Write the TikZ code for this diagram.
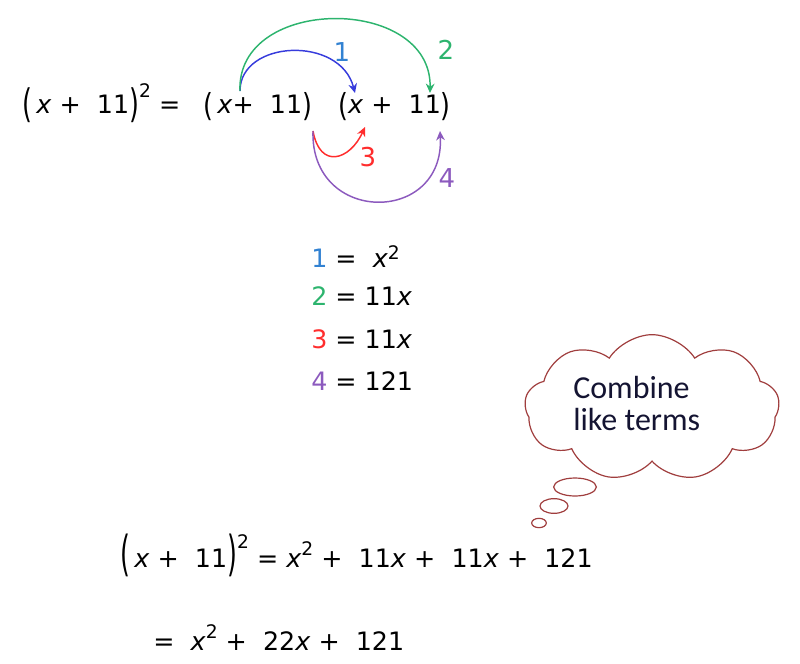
\documentclass[tikz,border=0pt]{standalone}
\usepackage{fontspec}
\setmainfont{DejaVu Sans}
\newfontfamily\cloudfont{Carlito}
\usetikzlibrary{arrows.meta,shapes.symbols,shapes.geometric}
\definecolor{oneblue}{RGB}{55,60,220}
\definecolor{onelabel}{RGB}{50,130,210}
\definecolor{twogreen}{RGB}{45,180,110}
\definecolor{threered}{RGB}{255,45,45}
\definecolor{fourpurple}{RGB}{140,90,190}
\definecolor{cloudred}{RGB}{160,62,62}
\definecolor{notetext}{RGB}{20,20,50}
\newcommand{\vx}{\textit{x}}
\newcommand{\sqd}[1][0.55em]{\raisebox{#1}{\fontsize{14}{14}\selectfont 2}}
\newcommand{\tallp}[3]{\raisebox{-#2em}{\scalebox{1}[#1]{#3}}}
\begin{document}
\begin{tikzpicture}[x=0.75pt,y=-0.75pt,
  eqn/.style={anchor=base west,inner sep=0pt,font=\fontsize{19}{23}\selectfont},
  tag/.style={inner sep=0pt,font=\fontsize{19.5}{23}\selectfont},
  curve/.style={line width=1.1pt,-{Stealth[length=7pt,width=6.5pt]}},
  bubble/.style={ellipse,draw=cloudred,line width=0.9pt,inner sep=0pt}]
\useasboundingbox (0,0) rectangle (800,664);

% top line
\node[eqn] (lhs) at (22,113) {\tallp{1.55}{0.17}{(}\,\vx{} +\ \ 11\tallp{1.55}{0.17}{)}\sqd[0.6em]\ =};
\node[eqn] (fa) at (203,113) {\tallp{1.25}{0.14}{(}\,\vx{}+\ \ 11\tallp{1.25}{0.14}{)}};
\node[eqn] (fb) at (338,113) {\tallp{1.25}{0.14}{(}\vx{} +\ \ 11\tallp{1.25}{0.14}{)}};

% arrow ends
\coordinate (xa) at (240,91);
\coordinate (na) at (313,131);
\coordinate (xb) at (355,93);
\coordinate (nb) at (430,93);
\coordinate (xbl) at (365,127);
\coordinate (nbl) at (440,131);

\draw[curve,oneblue] (xa) .. controls (240,40) and (340,35) .. (xb);
\draw[curve,twogreen] (xa) .. controls (236,-5) and (432,-5) .. (nb);
\draw[curve,threered] (na) .. controls (320,170) and (350,160) .. (xbl);
\draw[curve,fourpurple] (na) .. controls (310,225) and (445,225) .. (nbl);

\node[tag,text=onelabel] (t1) at (342,52) {1};
\node[tag,text=twogreen] (t2) at (446,50) {2};
\node[tag,text=threered] (t3) at (368,157) {3};
\node[tag,text=fourpurple] (t4) at (447,178) {4};

% products
\node[eqn] (r1) at (311,267) {\textcolor{onelabel}{1} =\ \ \vx\sqd[0.3em]};
\node[eqn] (r2) at (311,305) {\textcolor{twogreen}{2} = 11\vx};
\node[eqn] (r3) at (311,348) {\textcolor{threered}{3} = 11\vx};
\node[eqn] (r4) at (311,390) {\textcolor{fourpurple}{4} = 121};

% thought cloud
\node[cloud,cloud puffs=9,cloud puff arc=115,cloud ignores aspect,
  draw=cloudred,line width=0.9pt,minimum width=191pt,minimum height=110pt]
  (cloud) at (652,408) {};
\node[anchor=base west,inner sep=0pt,text=notetext,
  font=\cloudfont\fontsize{24}{25}\selectfont] (c1) at (573,398) {Combine};
\node[anchor=base west,inner sep=0pt,text=notetext,
  font=\cloudfont\fontsize{24}{25}\selectfont] (c2) at (573,430) {like terms};
\node[bubble,minimum width=32pt,minimum height=13.5pt] (b1) at (575,487) {};
\node[bubble,minimum width=21pt,minimum height=11pt] (b2) at (554,506) {};
\node[bubble,minimum width=11pt,minimum height=7pt] (b3) at (539,523) {};

% result
\node[eqn] (s1) at (120,567) {\tallp{1.9}{0.13}{(}\,\vx{} +\ \ 11\tallp{1.9}{0.13}{)}\sqd[0.75em] = \vx\sqd[0.45em] +\ \ 11\vx{} +\ \ 11\vx{} +\ \ 121};
\node[eqn] (s2) at (153,650) {=\ \ \vx\sqd[0.45em] +\ \ 22\vx{} +\ \ 121};
\end{tikzpicture}
\end{document}
